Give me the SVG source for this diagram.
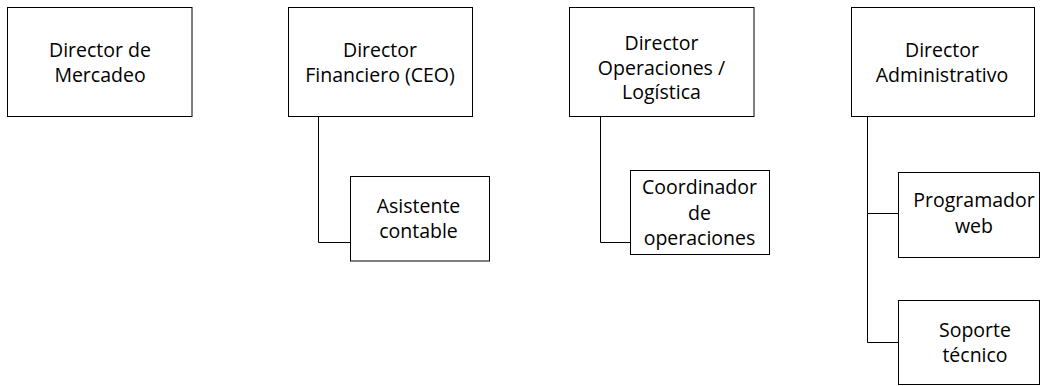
<svg xmlns="http://www.w3.org/2000/svg" width="1040" height="386" viewBox="0 0 1040 386">
  <style>
    .box { fill: #ffffff; stroke: #000000; stroke-width: 1; }
    .link { fill: none; stroke: #000000; stroke-width: 1; }
    text { font-family: "Open Sans", "Liberation Sans", sans-serif; font-size: 19.5px; fill: #000000; text-anchor: middle; }
  </style>
  <rect width="1040" height="386" fill="#ffffff"/>

  <!-- reporting lines -->
  <g id="connectors">
    <path class="link" d="M318.5 116.5 V242.5 H350.5"/>
    <path class="link" d="M600.5 116.5 V242.5 H630.5"/>
    <path class="link" d="M867.5 116.5 V342.5 H898.5"/>
    <path class="link" d="M867.5 213.5 H898.5"/>
  </g>

  <!-- top level -->
  <g id="dir-mercadeo">
    <rect class="box" x="7.5" y="7.5" width="184.5" height="109"/>
    <text x="100" y="57">Director de</text>
    <text x="100" y="82">Mercadeo</text>
  </g>
  <g id="dir-financiero">
    <rect class="box" x="288.5" y="7.5" width="184" height="109"/>
    <text x="380" y="57">Director</text>
    <text x="380" y="82">Financiero (CEO)</text>
  </g>
  <g id="dir-operaciones">
    <rect class="box" x="569.5" y="7.5" width="184.5" height="109"/>
    <text x="661.5" y="50">Director</text>
    <text x="661.5" y="74.5">Operaciones /</text>
    <text x="661.5" y="99">Logística</text>
  </g>
  <g id="dir-administrativo">
    <rect class="box" x="851.5" y="7.5" width="183" height="109"/>
    <text x="942" y="57">Director</text>
    <text x="942" y="82">Administrativo</text>
  </g>

  <!-- second level -->
  <g id="asistente-contable">
    <rect class="box" x="350.5" y="176.5" width="139" height="84.5"/>
    <text x="418.5" y="213">Asistente</text>
    <text x="418.5" y="238">contable</text>
  </g>
  <g id="coordinador-operaciones">
    <rect class="box" x="630.5" y="170.5" width="139" height="84"/>
    <text x="699.5" y="194">Coordinador</text>
    <text x="699.5" y="219.5">de</text>
    <text x="699.5" y="245">operaciones</text>
  </g>
  <g id="programador-web">
    <rect class="box" x="898.5" y="172.5" width="141" height="85"/>
    <text x="974" y="207">Programador</text>
    <text x="974" y="232.5">web</text>
  </g>
  <g id="soporte-tecnico">
    <rect class="box" x="898.5" y="300.5" width="141" height="84"/>
    <text x="975" y="337">Soporte</text>
    <text x="975" y="362">técnico</text>
  </g>
</svg>
